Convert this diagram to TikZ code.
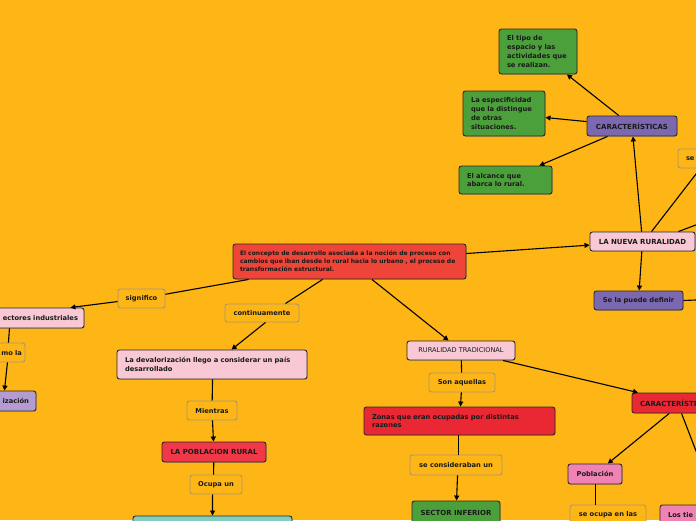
\documentclass[tikz,border=0pt]{standalone}
\usepackage{fontspec}
\setmainfont{DejaVu Sans}
\usetikzlibrary{calc,arrows.meta,shadows}
\definecolor{bg}{HTML}{FDB616}
\definecolor{grn}{HTML}{4CA03C}
\definecolor{purp}{HTML}{7B68B0}
\definecolor{lilac}{HTML}{B49BD2}
\definecolor{pinkl}{HTML}{F8C8D4}
\definecolor{pinkh}{HTML}{F082B4}
\definecolor{redmain}{HTML}{EF4438}
\definecolor{redpob}{HTML}{F03848}
\definecolor{redz}{HTML}{E92834}
\definecolor{teal}{HTML}{82CDBE}
\definecolor{boxline}{HTML}{2E2620}
\definecolor{lblline}{HTML}{A8966E}
\definecolor{txt}{HTML}{1A1A1A}
\begin{document}
\begin{tikzpicture}[x=1pt,y=-1pt,
  box/.style={draw=boxline, line width=0.9pt, rounded corners=2.5pt, inner sep=0pt, text=txt,
    font=\fontsize{6.7}{8.7}\selectfont\bfseries,
    drop shadow={shadow xshift=0.8pt, shadow yshift=-0.8pt, opacity=0.35}},
  caps/.style={font=\fontsize{7}{8.7}\selectfont\bfseries},
  lbl/.style={draw=lblline, line width=0.9pt, rounded corners=2.5pt, fill=bg, inner sep=0pt, text=txt,
    font=\fontsize{6.7}{8.7}\selectfont\bfseries, align=center},
  conn/.style={line width=1.1pt, draw=black},
  arr/.style={conn, -{Triangle[length=5pt,width=5pt]}},
]
\useasboundingbox (0,0) rectangle (696,520);
\clip (0,0) rectangle (696,520);
\fill[bg] (0,0) rectangle (696,520);

% right cluster
\node[box, fill=grn, minimum width=78pt, minimum height=45pt, text width=62pt, align=left] (g1) at (538,51.5) {El tipo de\\espacio y las\\actividades que\\se realizan.};
\node[box, fill=grn, minimum width=82pt, minimum height=45pt, text width=66pt, align=left] (g2) at (504,113.5) {La especificidad\\que la distingue\\de otras\\situaciones.};
\node[box, fill=grn, minimum width=93pt, minimum height=28pt, text width=77pt, align=left] (g3) at (505.5,180) {El alcance que\\abarca lo rural.};
\node[box, caps, fill=purp, minimum width=90pt, minimum height=20pt] (car1) at (632,126) {CARACTERÍSTICAS};
\node[lbl, minimum width=60pt, minimum height=19pt, text width=44pt, align=left] (se1) at (708,158.5) {se};
\node[box, caps, fill=pinkl, minimum width=105pt, minimum height=19pt] (nueva) at (642.5,241.5) {LA NUEVA RURALIDAD};
\node[box, fill=purp, minimum width=89pt, minimum height=19pt] (defin) at (638.5,300.5) {Se la puede definir};
\coordinate (offA) at (730,212);
\coordinate (offB) at (720,299);

% main
\node[box, fill=redmain, minimum width=233pt, minimum height=35pt, text width=219pt, align=left,
  font=\fontsize{6.05}{8}\selectfont\bfseries] (main) at (349.5,261.5)
  {El concepto de desarrollo asociada a la noción de proceso con\\cambios que iban desde lo rural hacia lo urbano , el proceso de\\transformación estructural.};

% left branch
\node[lbl, minimum width=47pt, minimum height=19pt] (signif) at (141.5,298.5) {significo};
\node[box, fill=pinkl, minimum width=124pt, minimum height=20pt, text width=112pt, align=right] (sect) at (22,318) {ectores industriales};
\node[lbl, minimum width=55pt, minimum height=19pt, text width=49pt, align=right] (comola) at (-2.5,352.5) {mo la};
\node[box, fill=lilac, minimum width=96pt, minimum height=20pt, text width=82pt, align=right] (indus) at (-12,401) {ización};

% middle-left branch
\node[lbl, minimum width=74pt, minimum height=18pt] (contin) at (262,313) {continuamente};
\node[box, fill=pinkl, minimum width=190pt, minimum height=29pt, text width=174pt, align=left] (deval) at (212,364.5) {La devalorización llego a considerar un país\\desarrollado};
\node[lbl, minimum width=50pt, minimum height=19pt] (mient) at (212,410.5) {Mientras};
\node[box, caps, fill=redpob, minimum width=104pt, minimum height=20pt] (pobr) at (214,452) {LA POBLACION RURAL};
\node[lbl, minimum width=52pt, minimum height=19pt] (ocupa) at (216,484.5) {Ocupa un};
\node[box, fill=teal, minimum width=159pt, minimum height=24pt] (tealb) at (212.5,528) {};

% middle-right branch
\node[box, fill=pinkl, minimum width=108pt, minimum height=19pt, font=\fontsize{6.6}{8.7}\selectfont] (rt) at (461,350.5) {RURALIDAD TRADICIONAL};
\node[lbl, minimum width=66pt, minimum height=19pt] (son) at (462,382.5) {Son aquellas};
\node[box, fill=redz, minimum width=191pt, minimum height=28pt, text width=175pt, align=left] (zonas) at (459.5,421) {Zonas que eran ocupadas por distintas\\razones};
\node[lbl, minimum width=92pt, minimum height=20pt] (secons) at (456,465) {se consideraban un};
\node[box, caps, fill=grn, minimum width=88pt, minimum height=24pt] (sector) at (456,513) {SECTOR INFERIOR};

\node[box, caps, fill=redz, minimum width=100pt, minimum height=20pt, text width=84pt, align=left] (car2) at (682,403) {CARACTERÍSTI};
\node[box, fill=pinkh, minimum width=54pt, minimum height=20pt] (pob2) at (595,474) {Población};
\node[lbl, minimum width=76pt, minimum height=19pt] (seoc) at (608,514.5) {se ocupa en las};
\node[box, fill=pinkh, minimum width=60pt, minimum height=20pt, text width=44pt, align=left] (tier) at (690,515) {Los tie};
\coordinate (offC) at (708,482);

% connectors
\draw[arr] (main) -- (nueva);
\draw[arr] (nueva) -- (car1);
\draw[arr] (car1) -- (g1);
\draw[arr] (car1) -- (g2);
\draw[arr] (car1) -- (g3);
\draw[conn] ($(nueva.north west)+(62,0)$) -- (se1);
\draw[conn] ($(nueva.north east)+(-17,0)$) -- (offA);
\draw[arr] (nueva) -- (defin);
\draw[conn] (defin.east) -- (offB);

\draw[conn] (main) -- (signif);
\draw[arr] (signif) -- ($(sect.north east)+(-14,0)$);
\draw[conn] ($(sect.south east)+(-75,0)$) -- ($(comola.north east)+(-17,0)$);
\draw[arr] ($(comola.south east)+(-18,0)$) -- ($(indus.north east)+(-32,0)$);

\draw[conn] ($(main.south west)+(90,0)$) -- ($(contin.north east)+(-14,0)$);
\draw[arr] ($(contin.south east)+(-34,0)$) -- ($(deval.north west)+(115,0)$);
\draw[conn] ($(deval.south west)+(96,0)$) -- (mient);
\draw[arr] (mient) -- (pobr);
\draw[conn] (pobr) -- ($(ocupa.north west)+(24,0)$);
\draw[arr] ($(ocupa.south west)+(23,0)$) -- (tealb);

\draw[arr] (main) -- (rt);
\draw[conn] (rt) -- (son);
\draw[arr] (son) -- (zonas);
\draw[conn] ($(zonas.south west)+(95,0)$) -- ($(secons.north west)+(49,0)$);
\draw[arr] ($(secons.south west)+(48,0)$) -- ($(sector.north west)+(45,0)$);

\draw[arr] (rt) -- (car2);
\draw[arr] (car2) -- (pob2);
\draw[conn] ($(car2.south west)+(50,0)$) -- (offC);
\draw[conn] ($(pob2.south west)+(28,0)$) -- ($(seoc.north west)+(26,0)$);
\end{tikzpicture}
\end{document}
